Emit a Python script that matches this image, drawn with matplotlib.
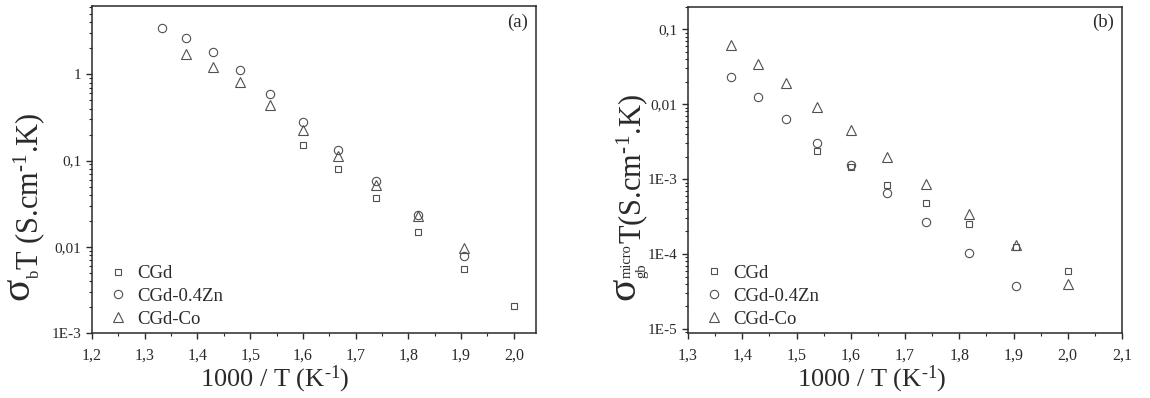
"""Two-panel Arrhenius plot: bulk (a) and grain-boundary (b) conductivity x T
for CGd, CGd-0.4Zn and CGd-Co."""
import math

import matplotlib.pyplot as plt
from matplotlib.ticker import FixedLocator, FuncFormatter, LogLocator, NullFormatter

plt.rcParams["font.family"] = ["Liberation Serif", "DejaVu Serif"]
plt.rcParams["mathtext.fontset"] = "custom"
plt.rcParams["mathtext.rm"] = "Liberation Serif"
plt.rcParams["mathtext.it"] = "Liberation Serif:italic"

# panel (a): sigma_b * T  vs 1000/T
A_CGD_X = [1.600, 1.667, 1.739, 1.818, 1.905, 2.000]
A_CGD_Y = [0.152, 0.0794, 0.0366, 0.0149, 0.0055, 0.00207]
A_ZN_X = [1.333, 1.379, 1.429, 1.481, 1.538, 1.600, 1.667, 1.739, 1.818, 1.905]
A_ZN_Y = [3.47, 2.66, 1.83, 1.13, 0.59, 0.283, 0.132, 0.0577, 0.0233, 0.0079]
A_CO_X = [1.379, 1.429, 1.481, 1.538, 1.600, 1.667, 1.739, 1.818, 1.905]
A_CO_Y = [1.72, 1.23, 0.82, 0.44, 0.226, 0.113, 0.052, 0.0229, 0.0097]

# panel (b): sigma_gb^micro * T  vs 1000/T
B_CGD_X = [1.538, 1.600, 1.667, 1.739, 1.818, 1.905, 2.000]
B_CGD_Y = [0.00239, 0.00143, 0.00084, 0.000478, 0.000251, 0.000126, 0.0000588]
B_ZN_X = [1.379, 1.429, 1.481, 1.538, 1.600, 1.667, 1.739, 1.818, 1.905]
B_ZN_Y = [0.0229, 0.0123, 0.0063, 0.00308, 0.00152, 0.000644, 0.000264, 0.000103, 0.0000371]
B_CO_X = [1.379, 1.429, 1.481, 1.538, 1.600, 1.667, 1.739, 1.818, 1.905, 2.000]
B_CO_Y = [0.0618, 0.0341, 0.0189, 0.0093, 0.00455, 0.0020, 0.000857, 0.000345, 0.000131, 0.0000398]

LABELS = ["CGd", "CGd-0.4Zn", "CGd-Co"]
MARKERS = [("s", 5), ("o", 6), ("^", 6.5)]
EDGE = "#505050"
INK = "#2a2a2a"
H = 398  # figure height in pixels


def y_fmt(v, _):
    if v >= 1:
        return f"{v:.0f}"
    if v >= 0.01:
        return f"{v:g}".replace(".", ",")
    return f"1E-{abs(int(round(math.log10(v))))}"


def x_fmt(v, _):
    return f"{v:.1f}".replace(".", ",")


def style(ax, xmajor, ylim, xlabel_x):
    ax.set_yscale("log")
    ax.set_ylim(*ylim)
    ax.xaxis.set_major_locator(FixedLocator(xmajor))
    ax.xaxis.set_minor_locator(FixedLocator([v + 0.05 for v in xmajor]))
    ax.xaxis.set_major_formatter(FuncFormatter(x_fmt))
    ax.yaxis.set_major_locator(LogLocator(base=10, numticks=20))
    ax.yaxis.set_minor_locator(LogLocator(base=10, subs=range(2, 10), numticks=20))
    ax.yaxis.set_major_formatter(FuncFormatter(y_fmt))
    ax.yaxis.set_minor_formatter(NullFormatter())
    ax.tick_params(which="major", direction="out", length=4.5, width=1.0,
                   labelsize=11.5, color=INK, labelcolor=INK)
    ax.tick_params(which="minor", direction="out", length=2.3, width=0.8, color=INK)
    ax.tick_params(axis="x", which="major", pad=6)
    ax.tick_params(axis="y", which="major", pad=3, labelsize=11)
    for s in ax.spines.values():
        s.set_linewidth(1.1)
        s.set_color(INK)
    ax.set_xlabel("1000 / T (K$^{\\mathrm{‐1}}$)", fontsize=19, color=INK)
    ax.xaxis.set_label_coords(xlabel_x, -0.095)


def scatter(ax, series):
    for (x, y), label, (m, ms) in zip(series, LABELS, MARKERS):
        ax.plot(x, y, linestyle="none", marker=m, markersize=ms,
                markerfacecolor="none", markeredgecolor=EDGE,
                markeredgewidth=0.8, label=label)
    leg = ax.legend(loc="lower left", bbox_to_anchor=(-0.005, -0.035),
                    frameon=False, fontsize=13.5, handletextpad=0.45,
                    labelspacing=0.3, handlelength=1.2)
    for t in leg.get_texts():
        t.set_color(INK)


def vtext(ax, s, x_px, y, size, ycoords="figure pixels"):
    """Rotated piece of the y label; baseline at x_px, starting at y."""
    return ax.annotate(s, xy=(x_px, y), xycoords=("figure pixels", ycoords),
                       rotation=90, rotation_mode="anchor", ha="left",
                       va="baseline", fontsize=size, color=INK,
                       annotation_clip=False)


fig = plt.figure(figsize=(11.5, 3.98), dpi=100)
ax1 = fig.add_axes([92 / 1150, 65 / H, 444 / 1150, 327 / H])
ax2 = fig.add_axes([688 / 1150, 65 / H, 434 / 1150, 326.3 / H])

scatter(ax1, [(A_CGD_X, A_CGD_Y), (A_ZN_X, A_ZN_Y), (A_CO_X, A_CO_Y)])
style(ax1, [1.2, 1.3, 1.4, 1.5, 1.6, 1.7, 1.8, 1.9, 2.0], (1e-3, 6.2), 0.412)
ax1.set_xlim(1.2, 2.042)
ax1.text(0.982, 0.978, "(a)", transform=ax1.transAxes, ha="right", va="top",
         fontsize=13.5, color=INK)

# y label (a): big sigma, subscript b, then the rest
sig1 = vtext(ax1, "$\\mathrm{σ}$", 30, H - 302, 30)
sub1 = vtext(ax1, "b", 39, 1.0, 12, ycoords=sig1)
vtext(ax1, "T (S.cm$^{\\mathrm{‐1}}$.K)", 38, 1.0, 22, ycoords=sub1)

scatter(ax2, [(B_CGD_X, B_CGD_Y), (B_ZN_X, B_ZN_Y), (B_CO_X, B_CO_Y)])
style(ax2, [1.3, 1.4, 1.5, 1.6, 1.7, 1.8, 1.9, 2.0, 2.1], (8.84e-6, 0.2), 0.424)
ax2.set_xlim(1.3, 2.1)
ax2.text(0.982, 0.978, "(b)", transform=ax2.transAxes, ha="right", va="top",
         fontsize=13.5, color=INK)

# y label (b): big sigma with stacked gb / micro, then the rest
sig2 = vtext(ax2, "$\\mathrm{σ}$", 636, H - 302, 30)
vtext(ax2, "gb", 645, 1.0, 10.5, ycoords=sig2)
sup2 = vtext(ax2, "micro", 631, 1.0, 10.5, ycoords=sig2)
vtext(ax2, "T(S.cm$^{\\mathrm{‐1}}$.K)", 641, 1.0, 22, ycoords=sup2)

fig.savefig("out.png", dpi=100)
